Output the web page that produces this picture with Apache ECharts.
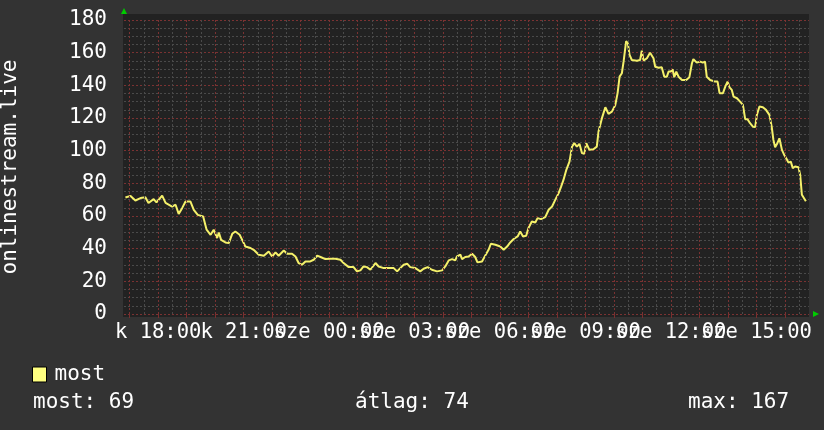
<!DOCTYPE html>
<html>
<head>
<meta charset="utf-8">
<script src="https://cdn.jsdelivr.net/npm/echarts@6/dist/echarts.min.js"></script>
<style>
  html, body { margin: 0; padding: 0; background: #333333; }
  #chart { width: 824px; height: 430px; }
</style>
</head>
<body>
<div id="chart"></div>
<script>
// time in hours since start-day midnight (24 = next day 00:00)
const hours = [
  16.85,17.03,17.2,17.38,17.55,17.66,17.84,17.94,18.14,18.26,18.49,18.61,18.72,18.84,18.96,19.13,19.25,19.39,19.58,19.7,
  19.84,19.95,20.07,20.13,20.21,20.36,20.48,20.6,20.71,20.86,20.95,21.06,21.24,21.38,21.53,21.71,21.88,22,22.12,22.23,
  22.41,22.53,22.7,22.82,22.93,23.05,23.17,23.34,23.46,23.58,23.7,23.87,24.05,24.22,24.4,24.51,24.69,24.86,24.98,25.1,
  25.21,25.33,25.45,25.63,25.74,25.92,26.09,26.27,26.39,
  26.5,26.62,26.74,26.85,27.03,27.2,27.32,27.46,27.61,27.79,27.97,28.08,28.2,28.32,28.43,28.49,28.61,28.67,28.78,28.9,
  29.02,29.13,29.21,29.37,29.48,29.6,29.68,29.84,30.01,30.13,30.25,30.36,30.48,30.62,30.71,30.81,30.92,31.0,31.12,31.24,
  31.32,31.44,31.59,31.71,31.83,31.94,32.06,32.14,32.23,32.33,32.44,32.53,32.61,32.7,32.79,32.88,32.96,33.03,33.14,33.28,
  33.4,33.46,
  33.58,33.7,33.81,33.93,34.05,34.13,34.2,34.28,34.34,34.43,34.49,34.55,34.63,34.81,34.92,34.98,35.04,35.16,35.27,35.33,
  35.39,35.45,35.57,35.68,35.77,35.86,35.92,36.0,36.06,36.12,36.19,36.27,36.39,36.54,36.65,36.74,36.79,36.91,37.03,37.12,
  37.2,37.26,37.38,37.55,37.64,37.71,37.83,37.91,37.99,38.06,38.14,38.2,38.32,38.43,38.53,38.61,38.69,38.78,38.88,38.96,
  39.02,39.11,39.23,39.34,39.46,39.54,39.6,39.66,39.74,39.81,39.9,39.98,40.05,40.13,40.21,40.28,40.36,40.48,40.54,40.6,
  40.65,40.74
];
const mostValues = [
  71.3,72.3,69.5,71,71.5,68,70.3,68.3,72.5,68,65.8,66.9,61.3,64.8,68.9,68.9,63.8,60.7,59.7,51.6,
  48.5,51.6,46.5,49.9,45.4,43.8,43.4,49.1,50.5,48.5,45.4,41.3,40.4,38.9,36.3,35.7,38.3,35.2,37.7,35.7,
  38.9,36.9,36.9,35.2,31.2,30.2,32.2,32.2,33.2,35.7,34.9,33.6,33.8,33.8,33.2,31.2,28.7,28.7,26.1,26.7,
  29.1,28.7,27.1,31.2,29.1,28.1,28.1,28.1,26.1,
  28.1,30.2,30.8,28.7,28.1,26.1,27.7,28.7,27.1,26.1,26.7,29.1,32.8,33.6,32.8,35.2,36.3,33.6,34.9,35.2,
  36.9,34.9,31.6,32.2,35.7,39.3,43,42.4,41.3,39.3,41.3,43.8,45.9,47.5,50.5,47.5,47.9,52.6,56.6,56,
  58.7,58.1,59.3,63.8,65.8,69.9,74,77.7,82.1,88.3,93.3,102.5,104.6,102.5,104.2,98.5,98,104.6,100.5,100.9,
  102.5,111.7,
  119.9,126.6,122.5,123.9,128,135.2,145.3,147.4,154.5,167,165.7,158.6,155.5,155.1,155.5,161.2,155.1,156.6,160,160.6,
  156.6,151.4,150.8,151.1,145.3,145.3,148.4,148.4,149.8,145,148.4,145.3,143.3,143.3,145,153.5,156,153.9,154.5,153.9,
  154.5,145.3,143.3,142.3,142.3,135.2,135.2,139.2,142.3,138.8,137.2,133.1,132.1,130,128,119.3,119.3,116.8,114.7,114.4,
  121.9,127,126.6,125,121.9,114.7,106.6,102.1,104.6,107.6,100.5,97.4,95.4,92.7,93.3,89.3,90.3,89.9,85.2,73,
  73,69
];
const xLabelValues = [18, 21, 24, 27, 30, 33, 36, 39];
const xLabelTexts = ['k 18:00', 'k 21:00', 'sze 00:00', 'sze 03:00', 'sze 06:00', 'sze 09:00', 'sze 12:00', 'sze 15:00'];
const hourGrid = [17,18,19,20,21,22,23,24,25,26,27,28,29,30,31,32,33,34,35,36,37,38,39,40];
const halfHourGrid = [17.5,18.5,19.5,20.5,21.5,22.5,23.5,24.5,25.5,26.5,27.5,28.5,29.5,30.5,31.5,32.5,33.5,34.5,35.5,36.5,37.5,38.5,39.5,40.5];
const xStart = 16.8, xEnd = 40.85;
const yTitle = 'onlinestream.live';
const seriesName = 'most';
const statTexts = ['most: 69', 'átlag: 74', 'max: 167'];

const FONT = 'DejaVu Sans Mono';
const points = hours.map((h, i) => [h, mostValues[i]]);
const labelFor = v => { const i = xLabelValues.indexOf(v); return i >= 0 ? xLabelTexts[i] : ''; };
const labelsA = xLabelValues.filter((v, i) => i % 2 === 0);
const labelsB = xLabelValues.filter((v, i) => i % 2 === 1);

function gridLineSeries(values, color) {
  return {
    type: 'line', data: [], z: 1, silent: true, showSymbol: false,
    markLine: {
      silent: true, symbol: ['none', 'none'], animation: false,
      label: { show: false },
      lineStyle: { color: color, type: [2, 2], width: 1 },
      emphasis: { disabled: true },
      data: values.map(v => ({ xAxis: v }))
    }
  };
}
function labelStyle(values) {
  return { customValues: values, showMinLabel: true, showMaxLabel: true, hideOverlap: false,
           color: '#ffffff', fontFamily: FONT, fontSize: 20.5, margin: 8, formatter: labelFor };
}

const chart = echarts.init(document.getElementById('chart'), null, { renderer: 'canvas' });
chart.setOption({
  backgroundColor: '#333333',
  animation: false,
  grid: { left: 124, right: 15, top: 20, bottom: 116, containLabel: false, outerBoundsMode: 'none' },
  graphic: [
    { type: 'rect', z: -10, silent: true, shape: { x: 123, y: 14, width: 686, height: 303 }, style: { fill: '#222222' } },
    { type: 'text', left: 33, top: 392, style: { text: statTexts[0], fill: '#ffffff', font: '21px "DejaVu Sans Mono"' } },
    { type: 'text', left: 355, top: 392, style: { text: statTexts[1], fill: '#ffffff', font: '21px "DejaVu Sans Mono"' } },
    { type: 'text', left: 688, top: 392, style: { text: statTexts[2], fill: '#ffffff', font: '21px "DejaVu Sans Mono"' } }
  ],
  legend: {
    left: 27, top: 359, itemWidth: 14, itemHeight: 15, itemGap: 10,
    textStyle: { color: '#ffffff', fontFamily: FONT, fontSize: 21, padding: [0, 0, 0, 3] },
    data: [{ name: seriesName, icon: 'rect', itemStyle: { color: '#ffff80', borderColor: '#000000', borderWidth: 1 } }]
  },
  xAxis: [
    {
      type: 'value', min: xStart, max: xEnd, position: 'bottom',
      axisLine: { show: true, symbol: ['none', 'triangle'], symbolSize: [6, 6], symbolOffset: [0, 7],
                  lineStyle: { color: '#00cc00', width: 0 } },
      axisTick: { show: true, customValues: hourGrid, length: 4, lineStyle: { color: '#7a2e2e', width: 1 } },
      axisLabel: labelStyle(labelsA),
      splitLine: { show: false }
    },
    {
      type: 'value', min: xStart, max: xEnd, position: 'bottom', offset: 0,
      axisLine: { show: false },
      axisTick: { show: false },
      axisLabel: labelStyle(labelsB),
      splitLine: { show: false }
    }
  ],
  yAxis: {
    type: 'value', min: 0, max: 180, interval: 20,
    name: yTitle, nameLocation: 'middle', nameGap: 103, nameRotate: 90,
    nameTextStyle: { color: '#ffffff', fontFamily: FONT, fontSize: 21 },
    axisLine: { show: true, symbol: ['none', 'triangle'], symbolSize: [6, 6], symbolOffset: [0, 9],
                lineStyle: { color: '#00cc00', width: 0 } },
    axisTick: { show: false },
    axisLabel: { color: '#ffffff', fontFamily: FONT, fontSize: 21, margin: 17 },
    splitLine: { show: true, lineStyle: { color: '#7a3232', type: [2, 2], width: 1 } },
    minorTick: { show: false, splitNumber: 4 },
    minorSplitLine: { show: true, lineStyle: { color: '#4a4a4a', type: [2, 2], width: 1 } }
  },
  series: [
    gridLineSeries(halfHourGrid, '#4a4a4a'),
    gridLineSeries(hourGrid, '#7a3232'),
    {
      name: seriesName, type: 'line', z: 3, data: points,
      showSymbol: false, symbol: 'none', color: '#ffff80',
      lineStyle: { color: '#f4f06a', width: 2 }
    }
  ]
});
</script>
</body>
</html>
